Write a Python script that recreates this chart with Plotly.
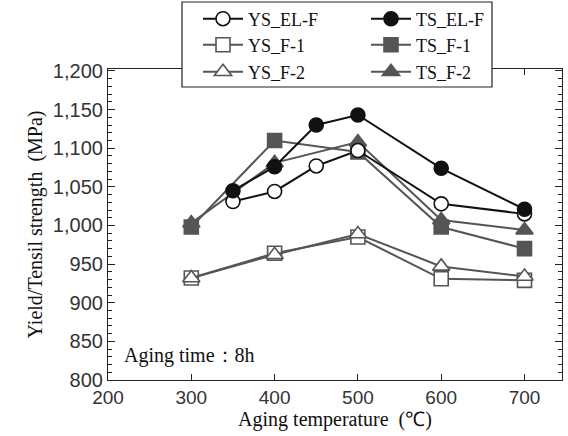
import plotly.graph_objects as go

# ---- data ----
temp_el = [350, 400, 450, 500, 600, 700]
temp_f = [300, 400, 500, 600, 700]

ys_el_f = [1031, 1044, 1077, 1097, 1028, 1015]
ts_el_f = [1045, 1076, 1130, 1143, 1074, 1021]
ys_f1 = [932, 964, 985, 931, 929]
ts_f1 = [998, 1110, 1095, 998, 970]
ys_f2 = [932, 962, 989, 947, 934]
ts_f2 = [1003, 1081, 1108, 1007, 994]

x_ticks = [200, 300, 400, 500, 600, 700]
y_ticks = [800, 850, 900, 950, 1000, 1050, 1100, 1150, 1200]

BLACK = "#111111"
GREY = "#555555"
SERIF = "Liberation Serif, Times New Roman, serif"
SANS = "Liberation Sans, Arial, sans-serif"

L, R, T, B = 108, 6, 69, 56
W, H = 568, 436
pw, ph = W - L - R, H - T - B

def px_x(p):
    return (p - L) / pw

def px_y(p):
    return (H - B - p) / ph

fig = go.Figure()

def add(name, x, y, color, symbol, filled, legend):
    fig.add_trace(go.Scatter(
        x=x, y=y, name=name, mode="lines+markers",
        line=dict(color=color, width=2),
        marker=dict(symbol=symbol, size=14 if symbol != "triangle-up" else 15,
                    color=color if filled else "white",
                    line=dict(color=color, width=1.6)),
        legend=legend,
    ))

add("YS_F-1", temp_f, ys_f1, GREY, "square", False, "legend3")
add("YS_F-2", temp_f, ys_f2, GREY, "triangle-up", False, "legend5")
add("TS_F-1", temp_f, ts_f1, GREY, "square", True, "legend4")
add("TS_F-2", temp_f, ts_f2, GREY, "triangle-up", True, "legend6")
add("YS_EL-F", temp_el, ys_el_f, BLACK, "circle", False, "legend")
add("TS_EL-F", temp_el, ts_el_f, BLACK, "circle", True, "legend2")

legend_font = dict(family=SERIF, size=18, color="#111")
leg_common = dict(xanchor="left", yanchor="middle", font=legend_font,
                  bgcolor="rgba(0,0,0,0)", borderwidth=0, itemwidth=40)
col_x = [198, 366]
row_y = [19, 45, 72]
legends = {}
names = ["legend", "legend2", "legend3", "legend4", "legend5", "legend6"]
for i, nm in enumerate(names):
    legends[nm] = dict(x=px_x(col_x[i % 2]), y=px_y(row_y[i // 2]), **leg_common)

fig.update_layout(
    width=W, height=H,
    margin=dict(l=L, r=R, t=T, b=B, autoexpand=False),
    paper_bgcolor="white", plot_bgcolor="white",
    showlegend=True,
    **legends,
    xaxis=dict(range=[200, 745], tickvals=x_ticks, ticks="inside", ticklen=6,
               tickcolor="#222", linecolor="#222", linewidth=1.2, mirror="ticks",
               showgrid=False, zeroline=False,
               tickfont=dict(family=SANS, size=19, color="#333"),
               title=dict(text="Aging temperature  (℃)",
                          font=dict(family=SERIF, size=20, color="#111"), standoff=2)),
    yaxis=dict(range=[800, 1202.5], tickvals=y_ticks, tickformat=",", ticks="inside",
               ticklen=7, tickcolor="#222", linecolor="#222", linewidth=1.2,
               mirror="ticks", showgrid=False, zeroline=False,
               minor=dict(dtick=10, ticks="inside", ticklen=4, tickcolor="#222"),
               tickfont=dict(family=SANS, size=20, color="#333"),
               title=dict(text="Yield/Tensil strength  (MPa)",
                          font=dict(family=SERIF, size=20, color="#111"), standoff=4)),
    shapes=[dict(type="rect", xref="paper", yref="paper",
                 x0=px_x(182), x1=px_x(492), y0=px_y(87), y1=px_y(2),
                 line=dict(color="#222", width=1.2), fillcolor="white", layer="above")],
    annotations=[dict(text="Aging time：8h", xref="paper", yref="paper",
                      x=px_x(122), y=px_y(355), xanchor="left", yanchor="middle",
                      showarrow=False, font=dict(family=SERIF, size=20, color="#111"))],
)

fig.write_html("out.html")
